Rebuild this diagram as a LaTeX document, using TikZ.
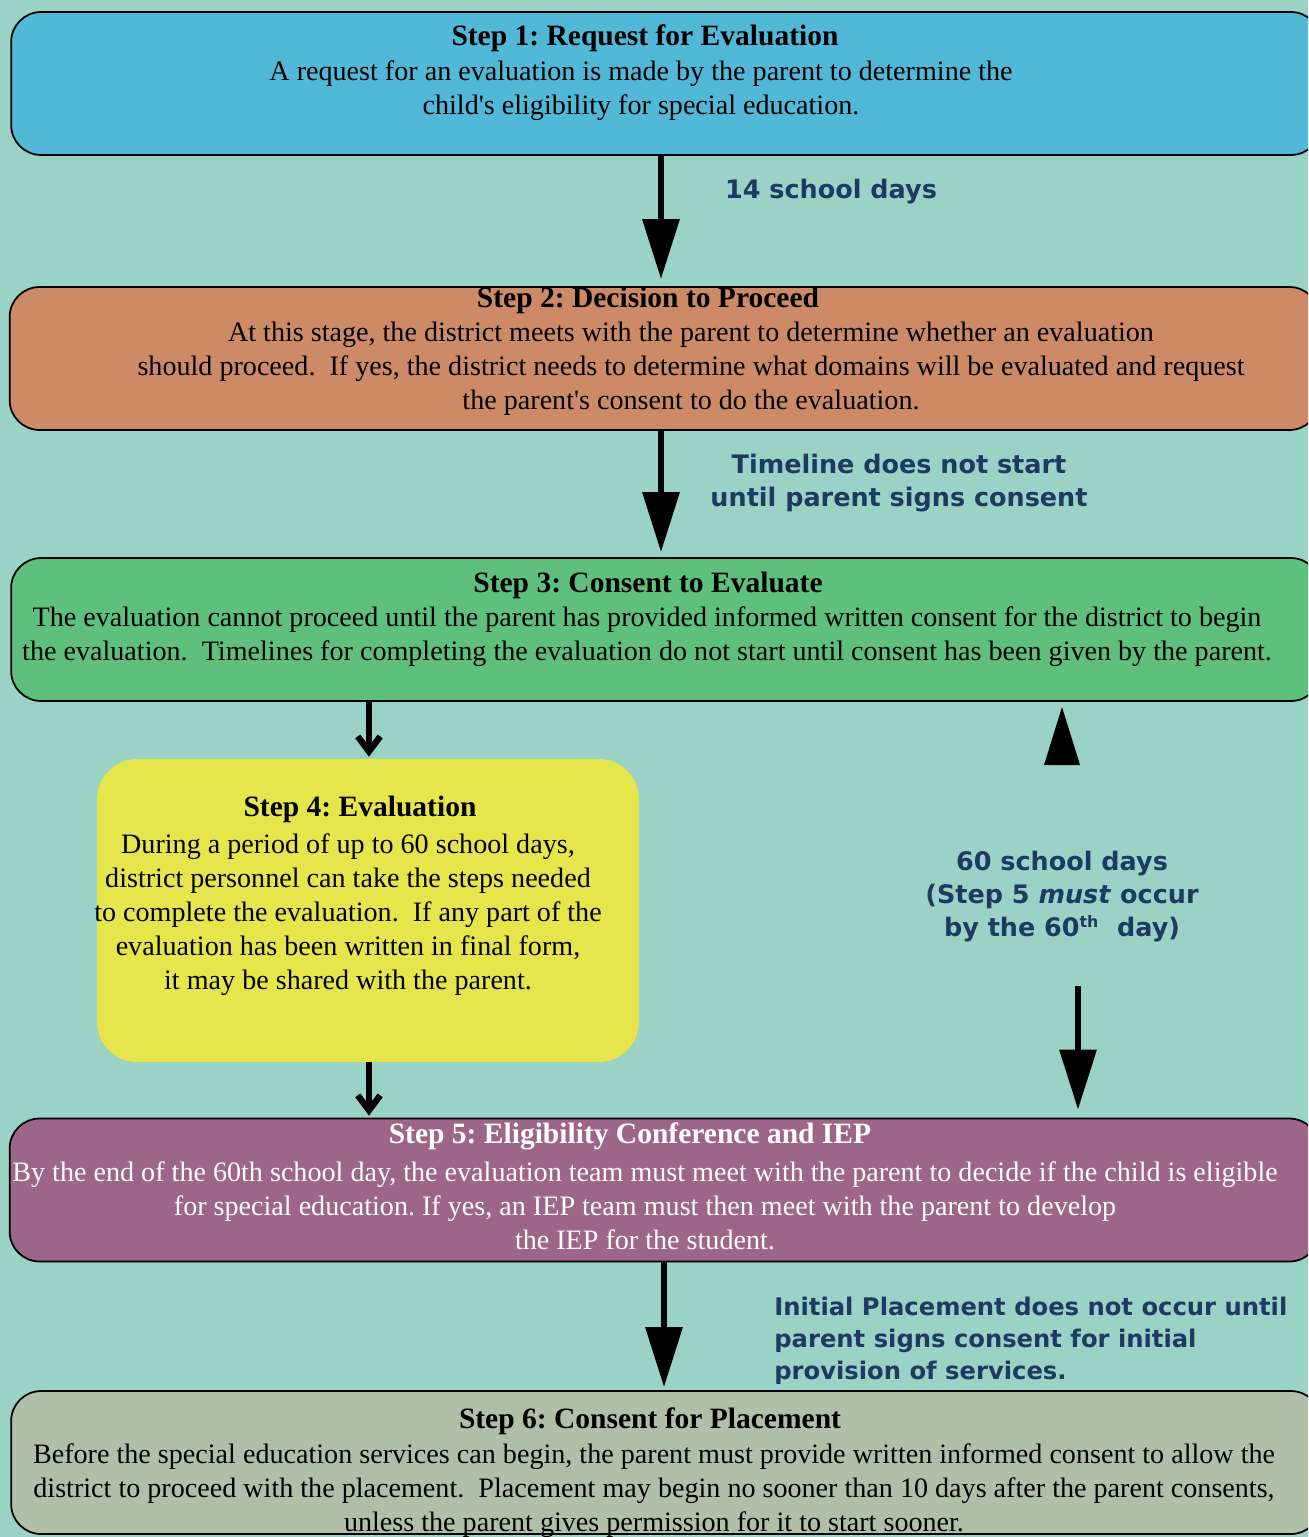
\documentclass[tikz,border=0pt]{standalone}
\usepackage{fontspec}
\setmainfont{Liberation Serif}
\newfontfamily\stepfont{Liberation Serif}
\newfontfamily\daysfont{DejaVu Sans}
\usetikzlibrary{calc}
\usetikzlibrary{arrows.meta,positioning}

\definecolor{bgteal}{RGB}{154,210,197}
\definecolor{stepblue}{RGB}{82,184,215}
\definecolor{steporange}{RGB}{205,138,103}
\definecolor{stepgreen}{RGB}{94,192,124}
\definecolor{stepyellow}{RGB}{230,230,76}
\definecolor{steppurple}{RGB}{157,102,136}
\definecolor{stepgray}{RGB}{176,192,168}
\definecolor{daysblue}{RGB}{30,58,98}

\tikzset{
  stepbox/.style={rectangle,rounded corners=0.6cm,minimum width=26.2cm,minimum height=2.86cm,draw=black,line width=1pt},
  headtext/.style={font=\fontsize{16.8}{19}\selectfont\bfseries,inner sep=0pt},
  bodytext/.style={font=\stepfont\fontsize{16}{19.4}\selectfont,align=center,inner sep=0pt},
  daystext/.style={font=\daysfont\bfseries\fontsize{14.5}{18.8}\selectfont,text=daysblue,align=center,inner sep=0pt},
  bigarrow/.style={-{Triangle[length=1.2cm,width=0.72cm]},line width=3.6pt},
  smallarrow/.style={-{Straight Barb[length=0.3cm,width=0.45cm]},line width=3.6pt},
}

\begin{document}
\frenchspacing
\begin{tikzpicture}[x=0.02cm,y=-0.02cm]

\coordinate (TOPLEFT) at (0,0);
\useasboundingbox (TOPLEFT) rectangle ++(1308,1537);
\clip (TOPLEFT) rectangle ++(1308,1537);
\fill[bgteal] (TOPLEFT) rectangle ++(1308,1537);

%%%%%%%%%%%%%%%%%%%%%

%draw step 1
\node[stepbox,fill=stepblue] at ($(TOPLEFT)+(666,83.5)$) (STEP1) {};
\node[headtext] at ($(TOPLEFT)+(645,38)$) (STEP1HEAD) {Step 1: Request for Evaluation};
\node[bodytext] at ($(TOPLEFT)+(641,90.5)$) (STEP1TEXT) {A request for an evaluation is made by the parent to determine the\\child's eligibility for special education.};

%draw step 2
\node[stepbox,fill=steporange] at ($(TOPLEFT)+(664.5,358.5)$) (STEP2) {};
\node[headtext] at ($(TOPLEFT)+(648,300)$) (STEP2HEAD) {Step 2: Decision to Proceed};
\node[bodytext] at ($(TOPLEFT)+(691,368.5)$) (STEP2TEXT) {At this stage, the district meets with the parent to determine whether an evaluation\\should proceed.\ \ If yes, the district needs to determine what domains will be evaluated and request\\the parent's consent to do the evaluation.};

%draw step 3
\node[stepbox,fill=stepgreen] at ($(TOPLEFT)+(666,629.5)$) (STEP3) {};
\node[headtext] at ($(TOPLEFT)+(648,585)$) (STEP3HEAD) {Step 3: Consent to Evaluate};
\node[bodytext] at ($(TOPLEFT)+(647,637)$) (STEP3TEXT) {The evaluation cannot proceed until the parent has provided informed written consent for the district to begin\\the evaluation.\ \ Timelines for completing the evaluation do not start until consent has been given by the parent.};

%draw step 4
\node[rectangle,rounded corners=0.8cm,minimum width=10.84cm,minimum height=6.06cm,fill=stepyellow] at ($(TOPLEFT)+(368,910.5)$) (STEP4) {};
\node[headtext] at ($(TOPLEFT)+(360,809)$) (STEP4HEAD) {Step 4: Evaluation};
\node[bodytext] at ($(TOPLEFT)+(348,914.5)$) (STEP4TEXT) {During a period of up to 60 school days,\\district personnel can take the steps needed\\to complete the evaluation.\ \ If any part of the\\evaluation has been written in final form,\\it may be shared with the parent.};

%draw step 5
\node[stepbox,fill=steppurple] at ($(TOPLEFT)+(664.5,1190)$) (STEP5) {};
\node[headtext,text=white] at ($(TOPLEFT)+(630,1136)$) (STEP5HEAD) {Step 5: Eligibility Conference and IEP};
\node[bodytext,text=white] at ($(TOPLEFT)+(645,1205.5)$) (STEP5TEXT) {By the end of the 60th school day, the evaluation team must meet with the parent to decide if the child is eligible\\for special education. If yes, an IEP team must then meet with the parent to develop\\the IEP for the student.};

%draw step 6
\node[stepbox,fill=stepgray] at ($(TOPLEFT)+(666,1462.5)$) (STEP6) {};
\node[headtext] at ($(TOPLEFT)+(650,1421)$) (STEP6HEAD) {Step 6: Consent for Placement};
\node[bodytext] at ($(TOPLEFT)+(654,1491)$) (STEP6TEXT) {Before the special education services can begin, the parent must provide written informed consent to allow the\\district to proceed with the placement.\ \ Placement may begin no sooner than 10 days after the parent consents,\\unless the parent gives permission for it to start sooner.};

%%%%%%%%%%%%%%%%%%%
%draw timelines

\node[daystext] at ($(TOPLEFT)+(831,192)$) (DAYS14) {14 school days};
\node[daystext] at ($(TOPLEFT)+(899,483.5)$) (CONSENT) {Timeline does not start\\until parent signs consent};
\node[daystext] at ($(TOPLEFT)+(1062,897)$) (DAYS60) {60 school days\\(Step 5 \textit{must} occur\\by the 60\textsuperscript{\fontsize{9}{9}\selectfont th}\ \ day)};
\node[daystext,align=left,anchor=west,font=\daysfont\bfseries\fontsize{13.8}{18.2}\selectfont] at ($(TOPLEFT)+(774,1341)$) (PLACEMENT) {Initial Placement does not occur until\\parent signs consent for initial\\provision of services.};

%%%%%%%%%%%%%%%%%%%%%%
%draw arrows between steps

\coordinate (ARROWMID) at ($(TOPLEFT)+(661,0)$);
\coordinate (ARROWLOW) at ($(TOPLEFT)+(664,0)$);
\coordinate (ARROWLEFT) at ($(TOPLEFT)+(369,0)$);
\coordinate (DAYSEND) at ($(TOPLEFT)+(1078,986)$);

\draw[bigarrow,shorten >=0.14cm] (STEP1.south -| ARROWMID) -- (STEP2.north -| ARROWMID);
\draw[bigarrow,shorten >=0.1cm] (STEP2.south -| ARROWMID) -- (STEP3.north -| ARROWMID);
\draw[smallarrow,shorten >=0.04cm] (STEP3.south -| ARROWLEFT) -- (STEP4.north -| ARROWLEFT);
\draw[smallarrow,shorten >=0.04cm] (STEP4.south -| ARROWLEFT) -- (STEP5.north -| ARROWLEFT);
\draw[bigarrow,shorten >=0.06cm] (STEP5.south -| ARROWLOW) -- (STEP6.north -| ARROWLOW);

%60 days arrows
\fill ($(TOPLEFT)+(1044,765)$) -- ($(TOPLEFT)+(1062,707)$) -- ($(TOPLEFT)+(1080,765)$) -- cycle;
\draw[bigarrow,shorten >=0.16cm] (DAYSEND) -- (STEP5.north -| DAYSEND);

\end{tikzpicture}
\end{document}
